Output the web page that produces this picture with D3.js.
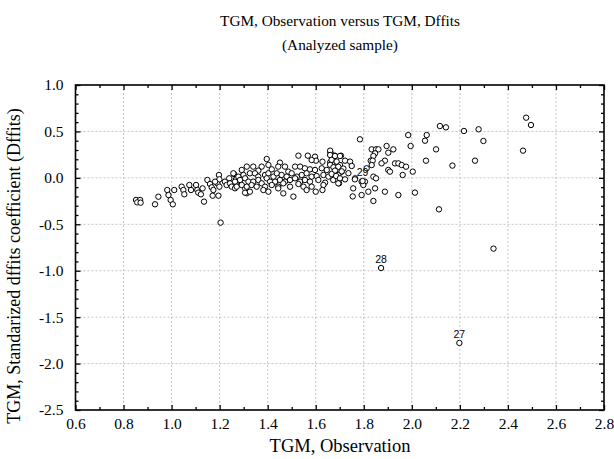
<!DOCTYPE html>
<html>
<head>
<meta charset="utf-8">
<script src="https://cdn.jsdelivr.net/npm/d3@7"></script>
<style>
  body { margin: 0; background: #fff; }
</style>
</head>
<body>
<svg id="chart" width="614" height="459"></svg>
<script>
  "use strict";

  // TGM observation vs standardized dffits
  const points = [
    [0.852, -0.238], [0.869, -0.238], [0.857, -0.264], [0.871, -0.267],
    [0.931, -0.285], [0.945, -0.203], [0.982, -0.131], [0.987, -0.185], [0.996, -0.238], [1.005, -0.285], [1.011, -0.131],
    [1.042, -0.095], [1.049, -0.131], [1.053, -0.177], [1.074, -0.077], [1.081, -0.131], [1.102, -0.077], [1.107, -0.131],
    [1.111, -0.159], [1.122, -0.177], [1.129, -0.113], [1.135, -0.256],
    [1.149, -0.023], [1.160, -0.066], [1.167, -0.102], [1.174, -0.131], [1.171, -0.192], [1.195, -0.192], [1.191, -0.059],
    [1.197, 0.031], [1.199, -0.016], [1.199, -0.095], [1.181, -0.041], [1.204, -0.482],
    [1.222, -0.041], [1.229, -0.077], [1.240, -0.005], [1.243, -0.059], [1.260, 0.042], [1.268, -0.016], [1.271, -0.077], [1.250, -0.095],
    [1.257, 0.049], [1.264, -0.112], [1.290, 0.013], [1.306, -0.113], [1.313, -0.166],
    // upper band
    [1.528, 0.239], [1.567, 0.239], [1.597, 0.228], [1.601, 0.185], [1.660, 0.282], [1.666, 0.250], [1.680, 0.239],
    [1.705, 0.239], [1.396, 0.203], [1.451, 0.164], [1.660, 0.167], [1.628, 0.174], [1.583, 0.192],
    [1.313, 0.121], [1.340, 0.121], [1.375, 0.121], [1.403, 0.139], [1.417, 0.092], [1.444, 0.121], [1.472, 0.121],
    [1.486, 0.067], [1.514, 0.121], [1.535, 0.121], [1.555, 0.103], [1.576, 0.092], [1.597, 0.085], [1.625, 0.103],
    [1.646, 0.085], [1.680, 0.121], [1.701, 0.139], [1.708, 0.067], [1.292, 0.085], [1.361, 0.078],
    // middle band
    [1.278, 0.013], [1.299, 0.031], [1.326, 0.049], [1.347, 0.049], [1.361, 0.013], [1.389, 0.031], [1.403, 0.049],
    [1.424, 0.013], [1.438, 0.049], [1.458, 0.031], [1.479, 0.013], [1.500, 0.049], [1.521, 0.013], [1.542, 0.031],
    [1.562, 0.049], [1.583, 0.013], [1.604, 0.020], [1.632, 0.031], [1.653, 0.013], [1.680, 0.049], [1.694, 0.031],
    [1.264, -0.041], [1.285, -0.023], [1.306, -0.005], [1.320, -0.041], [1.340, -0.041], [1.361, -0.023], [1.375, -0.059],
    [1.396, -0.005], [1.410, -0.041], [1.431, -0.041], [1.451, -0.023], [1.472, -0.041], [1.493, -0.023], [1.514, -0.005],
    [1.535, -0.041], [1.555, -0.023], [1.576, -0.041], [1.611, -0.023], [1.639, -0.052], [1.673, -0.023],
    // lower band
    [1.271, -0.095], [1.292, -0.077], [1.313, -0.095], [1.333, -0.077], [1.354, -0.095], [1.389, -0.095], [1.417, -0.077],
    [1.444, -0.095], [1.465, -0.059], [1.493, -0.095], [1.528, -0.066], [1.549, -0.095], [1.583, -0.095], [1.632, -0.077],
    [1.697, -0.059],
    [1.306, -0.160], [1.326, -0.149], [1.382, -0.131], [1.403, -0.149], [1.444, -0.113], [1.465, -0.167], [1.507, -0.202],
    [1.562, -0.131], [1.600, -0.149], [1.628, -0.131],
    // right edge of the cluster
    [1.660, 0.293], [1.660, 0.246], [1.680, 0.235], [1.701, 0.235], [1.666, 0.193], [1.687, 0.175], [1.722, 0.185],
    [1.743, 0.175], [1.750, 0.128], [1.660, 0.140], [1.674, 0.114], [1.694, 0.120], [1.715, 0.100], [1.736, 0.050],
    [1.680, 0.078], [1.708, 0.070], [1.666, 0.042], [1.685, 0.020], [1.701, -0.005], [1.722, -0.016], [1.694, -0.059],
    [1.764, -0.005],
    // sparse tail
    [1.784, 0.415], [1.833, 0.307], [1.851, 0.307], [1.861, 0.307], [1.847, 0.264], [1.840, 0.235], [1.829, 0.185],
    [1.837, 0.185], [1.833, 0.138], [1.895, 0.343], [1.923, 0.307], [1.902, 0.271], [1.888, 0.185], [1.874, 0.156],
    [1.930, 0.156], [1.944, 0.156], [1.958, 0.138], [1.976, 0.120], [1.902, 0.085], [1.909, 0.067], [1.962, 0.031],
    [2.004, 0.067], [1.985, 0.461], [1.995, 0.343], [2.055, 0.400], [2.062, 0.461], [2.101, 0.307], [2.059, 0.185],
    [2.117, 0.558], [2.142, 0.544], [1.812, 0.103], [1.840, 0.013], [1.851, -0.005], [1.763, -0.016], [1.791, -0.041],
    [1.805, -0.041], [1.798, -0.077], [1.756, -0.113], [1.754, -0.200], [1.791, -0.185], [1.819, -0.149], [1.847, -0.113],
    [1.840, -0.249], [1.888, -0.149], [1.944, -0.185], [2.013, -0.159], [2.113, -0.339],
    [2.217, 0.505], [2.278, 0.523], [2.298, 0.397], [2.263, 0.185], [2.169, 0.132], [2.476, 0.648], [2.496, 0.569],
    [2.463, 0.293], [2.340, -0.762]
  ];
  // labelled cases
  const labelNames = ["29", "28", "27"];
  const labelX = [1.795, 1.872, 2.198];
  const labelY = [-0.034, -0.971, -1.778];

  const xTicks = [0.6, 0.8, 1.0, 1.2, 1.4, 1.6, 1.8, 2.0, 2.2, 2.4, 2.6, 2.8];
  const yTicks = [1.0, 0.5, 0.0, -0.5, -1.0, -1.5, -2.0, -2.5];

  (function () {
    const svg = d3.select("#chart");
    const pl = 75.5, pr = 604, pt = 85, pb = 410;
    const serif = "'Liberation Serif', 'Times New Roman', Times, serif";

    const x = d3.scaleLinear().domain([0.6, 2.8]).range([pl, pr]);
    const y = d3.scaleLinear().domain([-2.5, 1.0]).range([pb, pt]);

    const xMinor = d3.range(7, 28, 2).map((v) => v / 10);
    const yMinor = d3.range(-24, 10).map((v) => v / 10).filter((v) => Math.abs(v * 2 - Math.round(v * 2)) > 1e-6);

    // grid
    const grid = svg.append("g").attr("stroke", "#c4c4c4").attr("stroke-width", 1).attr("stroke-dasharray", "2,2");
    grid.selectAll("line.gx")
      .data(xTicks.slice(1, -1))
      .join("line")
      .attr("class", "gx")
      .attr("x1", (d) => x(d)).attr("x2", (d) => x(d))
      .attr("y1", pt).attr("y2", pb);
    grid.selectAll("line.gy")
      .data(yTicks.slice(1, -1))
      .join("line")
      .attr("class", "gy")
      .attr("y1", (d) => y(d)).attr("y2", (d) => y(d))
      .attr("x1", pl).attr("x2", pr);

    function axisGroup(axis, tx, ty) {
      const g = svg.append("g").attr("transform", `translate(${tx},${ty})`).call(axis);
      g.select(".domain").remove();
      g.attr("font-family", serif).attr("font-size", 15.5);
      g.selectAll(".tick line").attr("stroke", "#000").attr("stroke-width", 1.3);
      g.selectAll(".tick text").attr("fill", "#000");
      return g;
    }

    const fmt = (d) => d.toFixed(1);
    // major ticks with labels
    axisGroup(d3.axisBottom(x).tickValues(xTicks).tickFormat(fmt).tickSizeInner(-5).tickSizeOuter(0).tickPadding(8), 0, pb);
    axisGroup(d3.axisLeft(y).tickValues(yTicks).tickFormat(fmt).tickSizeInner(-5).tickSizeOuter(0).tickPadding(12), pl, 0);
    axisGroup(d3.axisTop(x).tickValues(xTicks).tickFormat("").tickSizeInner(-5).tickSizeOuter(0), 0, pt);
    axisGroup(d3.axisRight(y).tickValues(yTicks).tickFormat("").tickSizeInner(-5).tickSizeOuter(0), pr, 0);
    // minor ticks
    axisGroup(d3.axisBottom(x).tickValues(xMinor).tickFormat("").tickSizeInner(-3).tickSizeOuter(0), 0, pb);
    axisGroup(d3.axisTop(x).tickValues(xMinor).tickFormat("").tickSizeInner(-3).tickSizeOuter(0), 0, pt);
    axisGroup(d3.axisLeft(y).tickValues(yMinor).tickFormat("").tickSizeInner(-3).tickSizeOuter(0), pl, 0);
    axisGroup(d3.axisRight(y).tickValues(yMinor).tickFormat("").tickSizeInner(-3).tickSizeOuter(0), pr, 0);

    // frame
    svg.append("rect")
      .attr("x", pl).attr("y", pt)
      .attr("width", pr - pl).attr("height", pb - pt)
      .attr("fill", "none").attr("stroke", "#000").attr("stroke-width", 1.6);

    // points
    svg.append("g").selectAll("circle")
      .data(points.concat(labelX.map((v, i) => [v, labelY[i]])))
      .join("circle")
      .attr("cx", (d) => x(d[0]))
      .attr("cy", (d) => y(d[1]))
      .attr("r", 2.7)
      .attr("fill", "#fff")
      .attr("stroke", "#000")
      .attr("stroke-width", 1);

    svg.append("g").selectAll("text")
      .data(labelNames)
      .join("text")
      .attr("x", (d, i) => x(labelX[i]))
      .attr("y", (d, i) => y(labelY[i]) - 5)
      .attr("text-anchor", "middle")
      .attr("font-family", "'Liberation Sans', Arial, sans-serif")
      .attr("font-size", 10.5)
      .text((d) => d);

    // titles
    svg.append("text").attr("x", 340).attr("y", 26).attr("text-anchor", "middle")
      .attr("font-family", serif).attr("font-size", 15.3).text("TGM, Observation versus TGM, Dffits");
    svg.append("text").attr("x", 340).attr("y", 50).attr("text-anchor", "middle")
      .attr("font-family", serif).attr("font-size", 15.3).text("(Analyzed sample)");
    svg.append("text").attr("x", 340).attr("y", 452).attr("text-anchor", "middle")
      .attr("font-family", serif).attr("font-size", 18.5).text("TGM, Observation");
    svg.append("text").attr("transform", "translate(20,266) rotate(-90)").attr("text-anchor", "middle")
      .attr("font-family", serif).attr("font-size", 18).text("TGM, Standarized dffits coefficient (Dffits)");
  })();
</script>
</body>
</html>
